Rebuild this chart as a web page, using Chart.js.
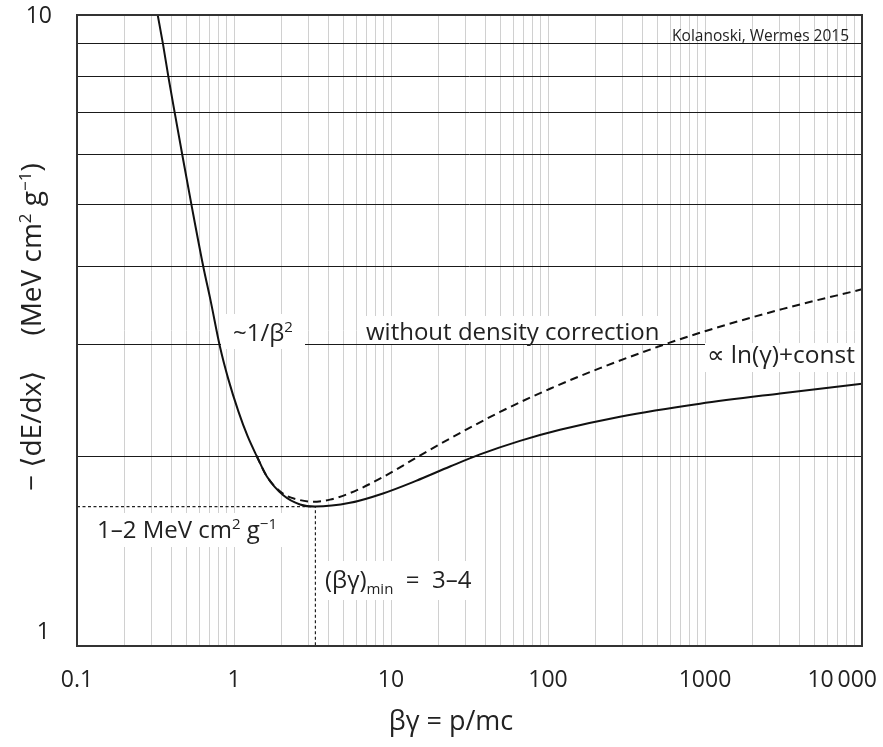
<!DOCTYPE html>
<html>
<head>
<meta charset="utf-8">
<script src="https://cdn.jsdelivr.net/npm/chart.js@4.4.1/dist/chart.umd.min.js"></script>
<style>
  html, body { margin: 0; padding: 0; background: #fff; }
</style>
</head>
<body>
<canvas id="bethe" width="883" height="747"></canvas>
<script>
// mean energy loss vs beta*gamma, log-log
const bgWith = [0.3266, 0.353, 0.384, 0.421, 0.472, 0.5385, 0.639, 0.709, 0.814, 0.920, 1.065, 1.219, 1.395, 1.616, 2.061, 2.633, 3.281, 5.48, 8.89, 14.43, 23.76, 36.88, 66.3, 119.2, 287.4, 929.3, 3003, 10000];
const dedxWith = [10.0, 8.99, 7.92, 6.96, 5.94, 4.97, 3.98, 3.53, 2.98, 2.648, 2.356, 2.152, 2.00, 1.858, 1.733, 1.676, 1.663, 1.686, 1.745, 1.827, 1.925, 2.012, 2.114, 2.201, 2.309, 2.421, 2.513, 2.604];

// without density correction, splits off near the minimum
const bgWithout = [1.395, 1.616, 2.061, 2.633, 3.162, 4.088, 5.48, 8.89, 14.43, 23.76, 49.46, 102.97, 214.4, 516.9, 1000, 3139, 10000];
const dedxWithout = [2.00, 1.858, 1.742, 1.703, 1.693, 1.706, 1.747, 1.852, 1.987, 2.132, 2.349, 2.557, 2.756, 2.988, 3.154, 3.422, 3.675];

// minimum ionisation marker
const bgMin = 3.3;
const dedxMin = 1.663;

const xDecades = [0.1, 1, 10, 100, 1000, 10000];
const xTickLabels = ['0.1', '1', '10', '100', '1000', '10\u2009000'];
const yTicks = [1, 2, 3, 4, 5, 6, 7, 8, 9, 10];
const yTickLabels = ['1', '10'];

const FONT = "'Open Sans', 'DejaVu Sans', sans-serif";

// grid at 1..9 x every decade
const xGrid = [];
xDecades.slice(0, -1).forEach(d => {
  for (let m = 1; m <= 9; m++) xGrid.push(+(d * m).toPrecision(3));
});
xGrid.push(xDecades[xDecades.length - 1]);

function pts(xs, ys) {
  return xs.map((x, i) => ({ x: x, y: ys[i] }));
}

// text made of normal / superscript / subscript runs
function richText(ctx, parts, x, y, size, align) {
  const fontOf = m => (m === 'n' ? size : Math.round(size * 0.62)) + 'px ' + FONT;
  const widths = parts.map(p => { ctx.font = fontOf(p[1]); return ctx.measureText(p[0]).width; });
  const total = widths.reduce((a, b) => a + b, 0);
  let cx = align === 'center' ? x - total / 2 : align === 'right' ? x - total : x;
  ctx.textAlign = 'left';
  ctx.textBaseline = 'alphabetic';
  parts.forEach((p, i) => {
    ctx.font = fontOf(p[1]);
    const dy = p[1] === 'sup' ? -size * 0.36 : p[1] === 'sub' ? size * 0.26 : 0;
    ctx.fillText(p[0], cx, y + dy);
    cx += widths[i];
  });
}

function boxedLabel(ctx, parts, x, y, size, box) {
  ctx.fillStyle = '#fff';
  ctx.fillRect(box[0], box[1], box[2] - box[0], box[3] - box[1]);
  ctx.fillStyle = '#222';
  richText(ctx, parts, x, y, size, 'left');
}

const annotations = {
  id: 'annotations',
  beforeDatasetsDraw(chart) {
    const ctx = chart.ctx;
    ctx.save();
    boxedLabel(ctx, [['~1/\u03b2', 'n'], ['2', 'sup']], 233, 341, 24, [221, 314, 305, 349]);
    boxedLabel(ctx, [['without density correction', 'n']], 366, 340, 24, [362, 316, 666, 344]);
    boxedLabel(ctx, [['\u221d ln(\u03b3)+const', 'n']], 707, 363, 24.5, [705, 343, 861, 372]);
    boxedLabel(ctx, [['1\u20132 MeV cm', 'n'], ['2', 'sup'], [' g', 'n'], ['\u22121', 'sup']], 97, 538, 24, [93, 513, 288, 547]);
    boxedLabel(ctx, [['(\u03b2\u03b3)', 'n'], ['min', 'sub'], ['  =  3\u20134', 'n']], 325, 588, 24, [320, 561, 485, 600]);
    ctx.font = '15.5px ' + FONT;
    ctx.fillStyle = '#222';
    ctx.textAlign = 'right';
    ctx.textBaseline = 'alphabetic';
    ctx.fillText('Kolanoski, Wermes 2015', 849, 41);
    ctx.restore();
  },
  afterDraw(chart) {
    const ctx = chart.ctx;
    const a = chart.chartArea;
    const sx = chart.scales.x, sy = chart.scales.y;
    ctx.save();
    // frame
    ctx.strokeStyle = '#333';
    ctx.lineWidth = 2;
    ctx.strokeRect(a.left, a.top, a.right - a.left, a.bottom - a.top);

    ctx.fillStyle = '#222';
    // x tick labels, kept inside the canvas
    ctx.font = '23px ' + FONT;
    ctx.textBaseline = 'alphabetic';
    ctx.textAlign = 'left';
    xDecades.forEach((v, i) => {
      const w = ctx.measureText(xTickLabels[i]).width;
      let left = sx.getPixelForValue(v) - w / 2;
      left = Math.min(left, chart.width - 6 - w);
      ctx.fillText(xTickLabels[i], left, 687);
    });
    // y tick labels
    ctx.textAlign = 'right';
    ctx.textBaseline = 'middle';
    ctx.fillText(yTickLabels[1], 52, sy.getPixelForValue(10) + 1);
    ctx.textBaseline = 'bottom';
    ctx.fillText(yTickLabels[0], 50, sy.getPixelForValue(1) - 2);

    // axis titles
    richText(ctx, [['\u03b2\u03b3 = p/mc', 'n']], 451, 730, 27, 'center');
    ctx.translate(41, 327);
    ctx.rotate(-Math.PI / 2);
    richText(ctx, [['\u2212 \u27e8dE/dx\u27e9\u2003 (MeV cm', 'n'], ['2', 'sup'], [' g', 'n'], ['\u22121', 'sup'], [')', 'n']], 0, 0, 28, 'center');
    ctx.restore();
  }
};

new Chart(document.getElementById('bethe'), {
  type: 'line',
  data: {
    datasets: [
      {
        label: 'with density correction',
        data: pts(bgWith, dedxWith),
        borderColor: '#111',
        borderWidth: 2,
        pointRadius: 0,
        cubicInterpolationMode: 'monotone',
        fill: false
      },
      {
        label: 'without density correction',
        data: pts(bgWithout, dedxWithout),
        borderColor: '#111',
        borderWidth: 2,
        borderDash: [8, 5],
        pointRadius: 0,
        cubicInterpolationMode: 'monotone',
        fill: false
      },
      {
        label: 'minimum',
        data: [{ x: xDecades[0], y: dedxMin }, { x: bgMin, y: dedxMin }, { x: bgMin, y: yTicks[0] }],
        borderColor: '#222',
        borderWidth: 1.2,
        borderDash: [3, 2.5],
        pointRadius: 0,
        tension: 0,
        fill: false
      }
    ]
  },
  options: {
    responsive: false,
    animation: false,
    devicePixelRatio: 1,
    layout: { padding: { left: 77, top: 15, right: 21, bottom: 101 } },
    plugins: { legend: { display: false }, tooltip: { enabled: false } },
    scales: {
      x: {
        type: 'logarithmic',
        min: xDecades[0],
        max: xDecades[xDecades.length - 1],
        afterBuildTicks: s => { s.ticks = xGrid.map(v => ({ value: v })); },
        afterFit: s => { s.height = 0; },
        ticks: { display: false },
        grid: { color: '#d0d0d0', lineWidth: 1, drawTicks: false },
        border: { display: false }
      },
      y: {
        type: 'logarithmic',
        min: yTicks[0],
        max: yTicks[yTicks.length - 1],
        afterBuildTicks: s => { s.ticks = yTicks.map(v => ({ value: v })); },
        afterFit: s => { s.width = 0; },
        ticks: { display: false },
        grid: { color: '#1a1a1a', lineWidth: 1, drawTicks: false },
        border: { display: false }
      }
    }
  },
  plugins: [annotations]
});
</script>
</body>
</html>
